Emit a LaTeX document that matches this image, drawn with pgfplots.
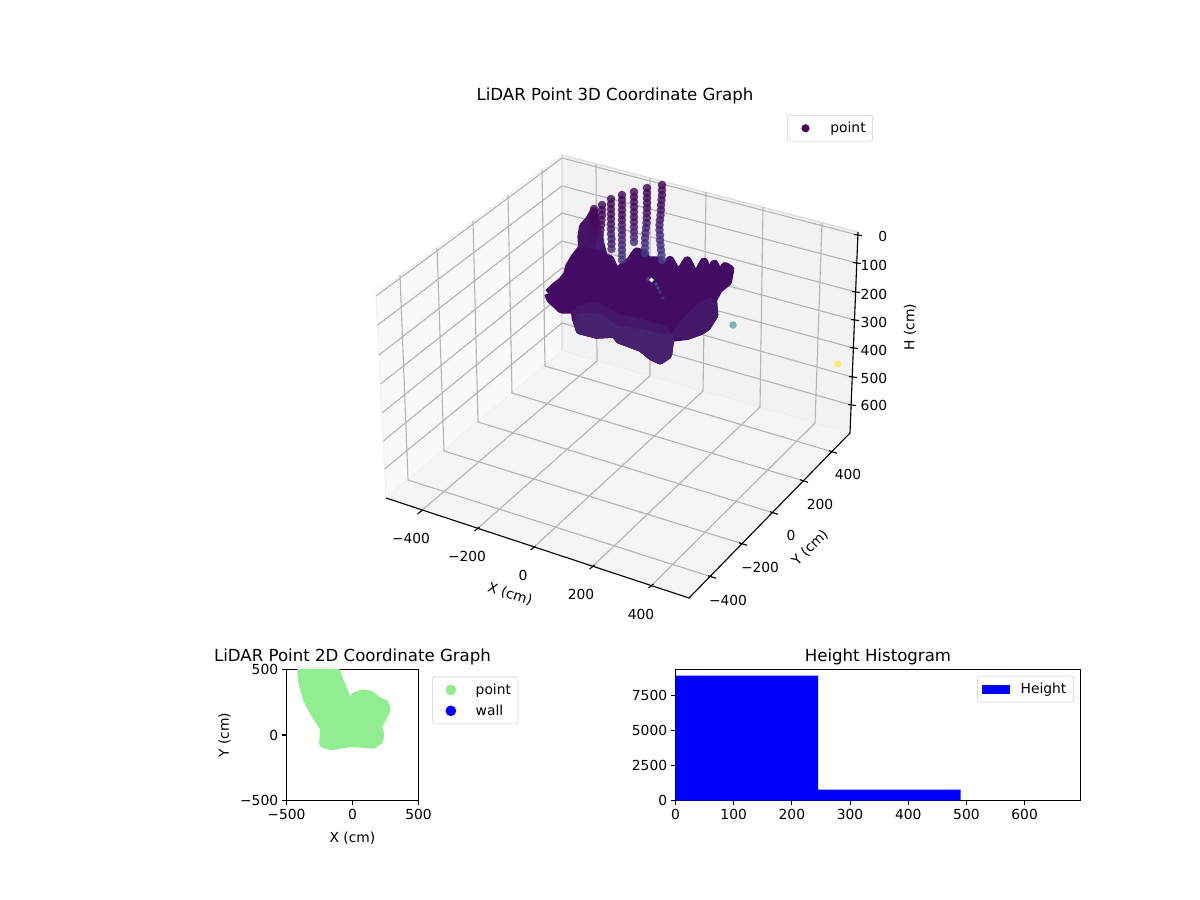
\documentclass[border=0pt]{standalone}
\usepackage{fontspec}
\setmainfont{DejaVu Sans}
\usepackage{pgfplots}
\pgfplotsset{compat=1.18}
\definecolor{paneL}{HTML}{F9F9F9}
\definecolor{paneB}{HTML}{F2F2F2}
\definecolor{paneF}{HTML}{F5F5F5}
\definecolor{gridc}{HTML}{B4B4B4}
\definecolor{vd}{HTML}{440154}
\definecolor{bodyA}{HTML}{440B64}
\definecolor{bodyM}{HTML}{451769}
\definecolor{bodyB}{HTML}{46226F}
\definecolor{bodyC}{HTML}{451467}
\definecolor{lgreen}{HTML}{90EE90}
\definecolor{speck}{HTML}{8A80B0}
\pgfplotsset{
  mplleg/.style={legend style={draw=black!20,rounded corners=1.5pt,fill=white,
     inner xsep=3bp,inner ysep=2.8bp,font=\fontsize{10}{12}\selectfont,row sep=2bp,
     /tikz/column 1/.style={column sep=5.8bp}},
     legend cell align=left},
  mplax/.style={scale only axis,axis line style={line width=0.8bp},tick style={black,line width=0.8bp},
     tick align=outside,major tick length=3.5bp,xtick pos=bottom,ytick pos=left,
     title style={font=\fontsize{12}{14}\selectfont,yshift=-6.5pt},
     xticklabel style={yshift=1pt},yticklabel style={xshift=1pt},
     xlabel style={yshift=-2pt},ylabel style={yshift=0pt}},
}
\begin{document}
\begin{tikzpicture}
\useasboundingbox (0,0) rectangle (864bp,648bp);
\begin{axis}[at={(0,0)},anchor=south west,scale only axis,width=864bp,height=648bp,
  xmin=0,xmax=1200,ymin=0,ymax=900,y dir=reverse,hide axis,unbounded coords=jump,
  colormap/viridis,point meta min=0,point meta max=690,
  mplleg,legend style={at={(787/1200,1-115/900)},anchor=north west}]
% panes
\addplot[forget plot,fill=paneL,draw=paneB,line width=0.8bp] coordinates {(376,293)(562,155)(562,351)(386,498)(376,293)};
\addplot[forget plot,fill=paneB,draw=paneB!90!black,line width=0.8bp] coordinates {(562,155)(858,232)(850,433)(562,351)(562,155)};
\addplot[forget plot,fill=paneF,draw=paneB,line width=0.8bp] coordinates {(386,498)(562,351)(850,433)(689,598)(386,498)};
% grid X
\addplot[forget plot,gridc,line width=0.8bp] coordinates {
(420,512)(597,361)(596,164)(nan,nan)
(477,529)(650,376)(650,178)(nan,nan)
(533,548)(703,391)(706,192)(nan,nan)
(592,567)(760,407)(763,207)(nan,nan)
(651,586)(815,423)(822,223)};
% grid Y
\addplot[forget plot,gridc,line width=0.8bp] coordinates {
(712,577)(408,480)(400,275)(nan,nan)
(743,544)(444,451)(437,248)(nan,nan)
(774,513)(478,422)(473,221)(nan,nan)
(804,481)(512,393)(508,195)(nan,nan)
(833,452)(545,366)(542,170)};
% grid H
\addplot[forget plot,gridc,line width=0.8bp] coordinates {
(376.1,296)(562,158)(857.9,235)(nan,nan)
(377.6,325)(562,186)(856.8,263)(nan,nan)
(379,355)(562,213)(855.6,292)(nan,nan)
(380.5,384)(562,241)(854.5,320)(nan,nan)
(382,413)(562,268)(853.4,348)(nan,nan)
(383.3,441)(562,295)(852.2,377)(nan,nan)
(384.6,469)(562,323)(851.1,405)};
% axis edges
\addplot[forget plot,black,line width=0.8bp] coordinates {(386,498)(689,598)(850,433)(858,232)};
% ticks
\addplot[forget plot,black,line width=0.8bp] coordinates {
(417.5,514)(422.5,510)(nan,nan)(474.5,531)(479.5,527)(nan,nan)(530.5,550)(535.5,546)(nan,nan)(589.5,569)(594.5,565)(nan,nan)(648.5,588)(653.5,584)(nan,nan)
(708,575.7)(716,578.3)(nan,nan)(739,542.7)(747,545.3)(nan,nan)(770,511.7)(778,514.3)(nan,nan)(800,479.7)(808,482.3)(nan,nan)(829,450.7)(837,453.3)(nan,nan)
(854,234.5)(862,235.5)(nan,nan)(853,262.5)(861,263.5)(nan,nan)(852,291.5)(860,292.5)(nan,nan)(851,319.5)(859,320.5)(nan,nan)(850,347.5)(858,348.5)(nan,nan)(849,376.5)(857,377.5)(nan,nan)(848,404.5)(856,405.5)};
% columns of points
\addplot[forget plot,scatter,only marks,mark=*,mark size=3.1pt,point meta=explicit,
  scatter/use mapped color={draw=mapped color,fill=mapped color},mark options={draw opacity=0,fill opacity=0.82}] coordinates {
(662,185)[10](662,190)[12](662,195)[15](661.5,200)[20](661,205)[25](661,210)[30](660.5,215)[40](660,220)[50](659.5,225)[60](659.5,230)[70](660,235)[80](660,240)[90](660.5,245)[100](661,250)[110](661.5,255)[120](662,260)[130]
(647,188)[10](647,193)[12](647,198)[15](647,203)[20](647,208)[25](646.7,213)[30](646.7,218)[40](646.5,223)[50](646,228)[60](645.5,233)[70](645,238)[80](645,243)[90](645,248)[100](645,253)[110]
(634,192)[10](634,197)[12](634,202)[15](634,207)[20](634,212)[25](634,217)[30](634,222)[40](634,227)[50](634,232)[60](634,237)[70](634,242)[80]
(622,195)[10](622,200)[12](622,205)[15](622,210)[20](622,215)[25](622,220)[30](622,225)[40](622,230)[50](622,235)[60](622,240)[70](622,245)[80](622,250)[90](622,255)[100](622,260)[110]
(611,199)[10](611,204)[12](611,209)[15](611,214)[20](611,219)[25](611,224)[30](611,229)[40](611,234)[50](611.5,239)[60](611.5,244)[70](611.5,249)[80]
(602,205)[10](602,210)[12](602,215)[15](601.5,220)[20](601,225)[25](600.5,230)[30](600,235)[40](600,240)[50](600,245)[60]
(594,209)[10](594,214)[10](593.5,219)[12](593,224)[15](593,229)[20](593,234)[25](593,239)[30]
};
% body
\addplot[forget plot,fill=bodyC,draw=bodyC,line width=6.2bp,line join=round] coordinates {
(582.7,250)(581.7,236.7)(583.3,226.7)(589.3,220)(594,211.7)(596,225)(598.3,236.7)(601.7,250)(604,257.3)(580,270)(582.7,250)};
\addplot[forget plot,fill=bodyA,draw=bodyA,line width=6.2bp,line join=round] coordinates {
(548.3,293.3)(555,286.7)(561.7,281.7)(567.3,275)(569.3,266.7)(575,257.3)(580.7,250)(604,257.3)(610,259.3)(616,273.3)(622.7,266.7)(630,261.7)(636.7,251.7)(643.3,254)(647.3,260.7)(658.3,260.7)(664.3,270)(670,260.3)(678.3,275)(687.3,260.7)(695.7,277.3)(704,262)(709.3,278.3)(714.3,264)(720,276.7)(725,266.3)(730,269.3)(727.7,281.7)(718.3,289.3)(712.7,300)(714,315)(706.7,326.7)(700,331)(686.7,335.7)(670,337.7)(667.7,355)(660,360)(651.7,356)(641.7,347.7)(619.3,339.3)(615,333.3)(596.7,334.3)(580,330)(576,318.3)(575,309.3)(561.7,309.3)(550.7,299.3)(548.3,293.3)};
\addplot[forget plot,fill=bodyM,draw=bodyM,line width=6.2bp,line join=round] coordinates {
(576.7,310)(596.7,306)(616.7,318)(640,323)(663.3,330)(670,337.7)(667.7,355)(660,360)(651.7,356)(641.7,347.7)(619.3,339.3)(615,333.3)(596.7,334.3)(580,330)(576.7,310)};
\addplot[forget plot,fill=bodyB,draw=bodyB,line width=6.2bp,line join=round] coordinates {
(576.7,318.3)(596.7,316.7)(616.7,330)(640,333.3)(663.3,338.3)(670,337.7)(667.7,355)(660,360)(651.7,356)(641.7,347.7)(619.3,339.3)(615,333.3)(596.7,334.3)(580,330)(576.7,318.3)};
\addplot[forget plot,fill=bodyM,draw=bodyM,line width=6.2bp,line join=round] coordinates {
(712.7,301.7)(714,315)(706.7,326.7)(700,331)(686.7,335.7)(676.7,333.3)(690,316.7)(703.3,305)(712.7,301.7)};
% inner specks
\addplot[forget plot,scatter,only marks,mark=*,mark size=1.1pt,point meta=explicit,
  scatter/use mapped color={draw=mapped color,fill=mapped color}] coordinates {
(648,279)[150](656,284)[170](658,288)[150](660,292)[110](663,298)[90]};
\addplot[forget plot,only marks,mark=*,mark size=1.4pt,white] coordinates {(651.5,280)};
% outliers
\addplot[forget plot,scatter,only marks,mark=*,mark size=2.7pt,point meta=explicit,
  scatter/use mapped color={draw=mapped color,fill=mapped color},mark options={draw opacity=0,fill opacity=0.6}] coordinates {(733,325)[345](838,364)[690]};
\addlegendimage{legend image code/.code={\path (0cm,0cm) (0.7cm,0cm);\fill[vd] (0.35cm,0cm) circle (2.7pt);}}
\addlegendentry{point}
% text
\node[font=\fontsize{12}{14}\selectfont] at (axis cs:615,96) {LiDAR Point 3D Coordinate Graph};
\node at (axis cs:411,538) {−400};
\node at (axis cs:467,556) {−200};
\node at (axis cs:523,575) {0};
\node at (axis cs:581,594) {200};
\node at (axis cs:641,614) {400};
\node[rotate=-18] at (axis cs:510,594) {X (cm)};
\node at (axis cs:728,600) {−400};
\node at (axis cs:760,567) {−200};
\node at (axis cs:791,535) {0};
\node at (axis cs:820,504) {200};
\node at (axis cs:848,474) {400};
\node[rotate=45] at (axis cs:810,548) {Y (cm)};
\node[anchor=east] at (axis cs:892,236) {0};
\node[anchor=east] at (axis cs:892,265) {100};
\node[anchor=east] at (axis cs:892,294) {200};
\node[anchor=east] at (axis cs:892,322) {300};
\node[anchor=east] at (axis cs:892,350) {400};
\node[anchor=east] at (axis cs:892,378) {500};
\node[anchor=east] at (axis cs:892,405) {600};
\node[rotate=90] at (axis cs:910,327) {H (cm)};
\end{axis}
% 2D scatter
\begin{axis}[at={(286.5*0.72bp,99.5*0.72bp)},anchor=south west,mplax,width=132*0.72bp,height=131*0.72bp,
  xmin=-500,xmax=500,ymin=-500,ymax=500,xtick={-500,0,500},xticklabels={−500,0,500},
  ytick={-500,0,500},yticklabels={−500,0,500},
  xlabel={X (cm)},ylabel={Y (cm)},title={LiDAR Point 2D Coordinate Graph},
  mplleg,legend style={at={(1.105,0.945)},anchor=north west}]
\addlegendimage{legend image code/.code={\path (0cm,0cm) (0.7cm,0cm);\fill[lgreen] (0.35cm,0cm) circle (3.6pt);}}
\addlegendentry{point}
\addlegendimage{legend image code/.code={\path (0cm,0cm) (0.7cm,0cm);\fill[blue] (0.35cm,0cm) circle (3.6pt);}}
\addlegendentry{wall}
\addplot[forget plot,fill=lgreen,draw=lgreen,line width=5.8bp,line join=round] coordinates {
(-391,522)(-381,408)(-343,268)(-292,172)(-216,53)(-222,-66)(-158,-86)(-19,-61)(158,-73)(204,-41)(209,15)(191,61)(259,192)(245,238)(190,262)(133,308)(82,318)(19,296)(-19,230)(-49,294)(-135,509)(-135,522)(-391,522)};
\end{axis}
% histogram
\begin{axis}[at={(675.5*0.72bp,99.5*0.72bp)},anchor=south west,mplax,width=405*0.72bp,height=131*0.72bp,
  xmin=0,xmax=696,ymin=0,ymax=9340,xtick={0,100,200,300,400,500,600},ytick={0,2500,5000,7500},
  scaled y ticks=false,y tick label style={/pgf/number format/.cd,set thousands separator={},assume math mode=true},
  x tick label style={/pgf/number format/assume math mode=true},
  title={Height Histogram},
  mplleg,legend style={at={(0.983,0.951)},anchor=north east}]
\addlegendimage{legend image code/.code={\fill[blue,sharp corners] (0cm,-0.1cm) rectangle (0.7cm,0.1cm);}}
\addlegendentry{Height}
\addplot[forget plot,ybar interval,fill=blue,draw=none] coordinates {(0,8895)(245,780)(490,0)};
\end{axis}
\end{tikzpicture}
\end{document}
